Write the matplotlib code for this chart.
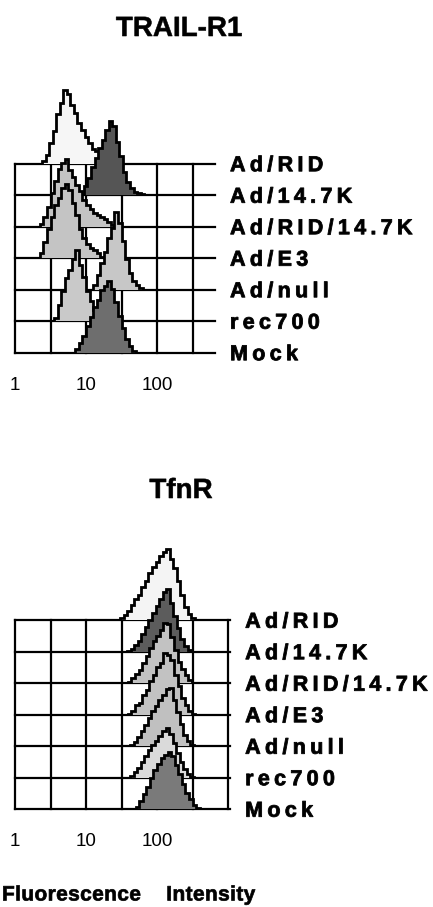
import bisect
import numpy as np
import matplotlib
matplotlib.use("Agg")
import matplotlib.pyplot as plt
from matplotlib.patheffects import AbstractPathEffect
from matplotlib.textpath import text_to_path
from matplotlib.path import Path

plt.rcParams['font.family'] = ['Liberation Sans', 'DejaVu Sans']

# ------------------------------------------------------------------ data
rows = ["Ad/RID", "Ad/14.7K", "Ad/RID/14.7K", "Ad/E3", "Ad/null", "rec700", "Mock"]
titles = ["TRAIL-R1", "TfnR"]
tick_values = [1, 10, 100]
tick_labels = ["1", "10", "100"]
axis_label = "Fluorescence Intensity"
bin_width = 0.05            # decades per histogram channel

# TRAIL-R1 panel: log10 of first channel edge, and counts per channel
trail_start = [0.38, 0.97, 0.35, 0.35, 1.10, 0.55, 0.85]
trail_ad_rid = [3, 9, 21, 33, 50, 61, 74, 70, 59, 51, 41, 34, 27, 21, 15, 13, 15, 9, 5, 1]
trail_ad_147k = [9, 17, 28, 37, 47, 55, 65, 74, 69, 53, 39, 23, 13, 7, 3, 2, 1]
trail_ad_rid_147k = [3, 10, 20, 34, 46, 58, 64, 68, 57, 50, 42, 36, 27, 22, 18, 14, 12, 10, 8, 5, 2]
trail_ad_e3 = [5, 16, 29, 41, 53, 60, 70, 74, 68, 55, 43, 29, 20, 14, 10, 8, 5, 1]
trail_ad_null = [5, 15, 27, 38, 52, 62, 78, 67, 49, 31, 17, 9, 5, 2]
trail_rec700 = [3, 16, 30, 43, 51, 62, 71, 56, 44, 30, 20, 11, 3]
trail_mock = [4, 10, 17, 27, 36, 46, 53, 63, 67, 72, 64, 51, 37, 25, 14, 7, 2]

# TfnR panel
tfnr_start = [1.48, 1.58, 1.59, 1.59, 1.62, 1.62, 1.70]
tfnr_ad_rid = [2, 5, 9, 15, 21, 25, 33, 39, 47, 53, 58, 64, 68, 71, 61, 52, 39, 25, 13, 6, 2]
tfnr_ad_147k = [1, 3, 7, 11, 18, 25, 32, 39, 46, 53, 60, 63, 49, 36, 24, 13, 6, 2]
tfnr_ad_rid_147k = [1, 5, 9, 13, 20, 27, 35, 42, 47, 53, 60, 59, 46, 33, 21, 14, 8, 3]
tfnr_ad_e3 = [1, 4, 10, 12, 20, 25, 34, 40, 48, 52, 62, 60, 55, 40, 29, 17, 10, 4, 1]
tfnr_ad_null = [1, 4, 9, 15, 21, 28, 35, 40, 46, 51, 57, 58, 46, 34, 22, 11, 5, 1]
tfnr_rec700 = [2, 6, 10, 16, 22, 28, 33, 37, 42, 47, 50, 44, 35, 25, 16, 9, 4, 1]
tfnr_mock = [2, 8, 15, 22, 31, 39, 45, 51, 54, 57, 53, 44, 35, 25, 16, 10, 4, 1]

trail_counts = [trail_ad_rid, trail_ad_147k, trail_ad_rid_147k, trail_ad_e3,
                trail_ad_null, trail_rec700, trail_mock]
tfnr_counts = [tfnr_ad_rid, tfnr_ad_147k, tfnr_ad_rid_147k, tfnr_ad_e3,
               tfnr_ad_null, tfnr_rec700, tfnr_mock]

# ------------------------------------------------------------------ style
trail_colors = ['#f6f6f6', '#555555', '#c4c4c4', '#c4c4c4', '#c7c7c7', '#c9c9c9', '#6e6e6e']
tfnr_colors = ['#f4f4f4', '#5c5c5c', '#c2c2c2', '#c2c2c2', '#c0c0c0', '#dadada', '#7a7a7a']
COUNT_SCALE = 1 / 31.5       # row units per count
LABEL_PT = 15.5
W, H = 433, 907


class Tracking(AbstractPathEffect):
    """Draw text with extra letter spacing (tracking) and optional emboldening."""

    def __init__(self, text, prop, track_em=0.0, word_em=0.0, stroke=0.0):
        super().__init__()
        self._text = text
        self._prop = prop.copy()
        self._track = track_em
        self._word = word_em
        self._stroke = stroke

    def draw_path(self, renderer, gc, tpath, affine, rgbFace=None):
        try:
            font = text_to_path._get_font(self._prop)
            info, _, _ = text_to_path.get_glyphs_with_font(font, self._text)
            xs = [g[1] for g in info]
            em = text_to_path.FONT_SCALE
            shifts, nsp = [], 0
            for i, ch in enumerate(self._text):
                shifts.append(i * self._track * em + nsp * self._word * em)
                if ch == ' ':
                    nsp += 1
            verts = np.array(tpath.vertices, dtype=float)
            codes = np.asarray(tpath.codes)
            starts = np.flatnonzero(codes == Path.MOVETO).tolist() + [len(codes)]
            for a, b in zip(starts[:-1], starts[1:]):
                m = codes[a:b] != Path.CLOSEPOLY
                if not m.any():
                    continue
                cx = verts[a:b][m, 0].mean()
                i = max(0, bisect.bisect_right(xs, cx) - 1)
                i = min(i, len(shifts) - 1)
                verts[a:b, 0] += shifts[i]
            tpath = Path(verts, codes)
        except Exception:
            pass
        if self._stroke > 0 and rgbFace is not None:
            gc0 = renderer.new_gc()
            gc0.copy_properties(gc)
            gc0.set_linewidth(self._stroke)
            gc0.set_foreground(rgbFace)
            gc0.set_joinstyle('round')
            renderer.draw_path(gc0, tpath, affine, rgbFace)
            gc0.restore()
        else:
            renderer.draw_path(gc, tpath, affine, rgbFace)


def tracked(t, track, word=0.0, stroke=0.0):
    t.set_path_effects([Tracking(t.get_text(), t.get_fontproperties(), track, word, stroke)])
    return t


fig = plt.figure(figsize=(W / 100, H / 100), dpi=100)


def panel(base_px, starts, counts, colors, vlines_to, hline_end, label_gap_pt):
    ax = fig.add_axes([15 / W, (H - base_px) / H, 213 / W, 283.5 / H])
    ax.set_xscale('log')
    ax.set_xlim(1, 1000)
    ax.set_ylim(0, 9)
    ax.axis('off')
    nrow = len(rows)
    # grid
    vx = 10 ** np.arange(0, vlines_to + 0.01, 0.5)
    ax.vlines(vx, 0, nrow - 1, color='black', lw=1.6, zorder=1, clip_on=False,
              capstyle='projecting')
    ax.hlines(np.arange(nrow), 1, hline_end, color='black', lw=1.6, zorder=1,
              clip_on=False, capstyle='projecting')
    # histograms, top row first so lower rows overlay
    for k in range(nrow):
        base = nrow - 1 - k
        c = np.asarray(counts[k], dtype=float)
        edges = 10 ** (starts[k] + bin_width * np.arange(len(c) + 1))
        top = base + c * COUNT_SCALE
        ax.stairs(top, edges, baseline=base, fill=True, facecolor=colors[k],
                  edgecolor='none', zorder=2 + k * 0.1, clip_on=False)
        ax.stairs(top, edges, baseline=base, fill=False, color='black', lw=2.0,
                  zorder=2.05 + k * 0.1, clip_on=False)
    # row labels
    for k, lab in enumerate(rows):
        t = ax.annotate(lab, xy=(hline_end, nrow - 1 - k),
                        xytext=(label_gap_pt, -0.358 * LABEL_PT),
                        textcoords='offset points', ha='left', va='baseline',
                        fontsize=LABEL_PT, fontweight='bold', annotation_clip=False)
        tracked(t, 0.2, stroke=0.6)
    # tick labels
    for v, lab in zip(tick_values, tick_labels):
        ax.annotate(lab, xy=(v, 0), xytext=(0, -27), textcoords='offset points',
                    ha='center', va='baseline', fontsize=13.5, annotation_clip=False)
    return ax


panel(352.5, trail_start, trail_counts, trail_colors, 2.5, 10 ** 2.817, 10.8)
panel(809, tfnr_start, tfnr_counts, tfnr_colors, 3.0, 10 ** 3.03, 10.8)

t1 = fig.text(179 / W, 1 - 36 / H, titles[0], ha='center', va='baseline',
              fontsize=20, fontweight='bold')
tracked(t1, 0.0, stroke=0.4)
t2 = fig.text(181 / W, 1 - 498 / H, titles[1], ha='center', va='baseline',
              fontsize=20, fontweight='bold')
tracked(t2, 0.0, stroke=0.4)
t = fig.text(2 / W, 1 - 900.5 / H, axis_label, ha='left', va='baseline',
             fontsize=15, fontweight='bold')
tracked(t, 0.02, 0.9, stroke=0.5)

fig.savefig('out.png', dpi=100)
